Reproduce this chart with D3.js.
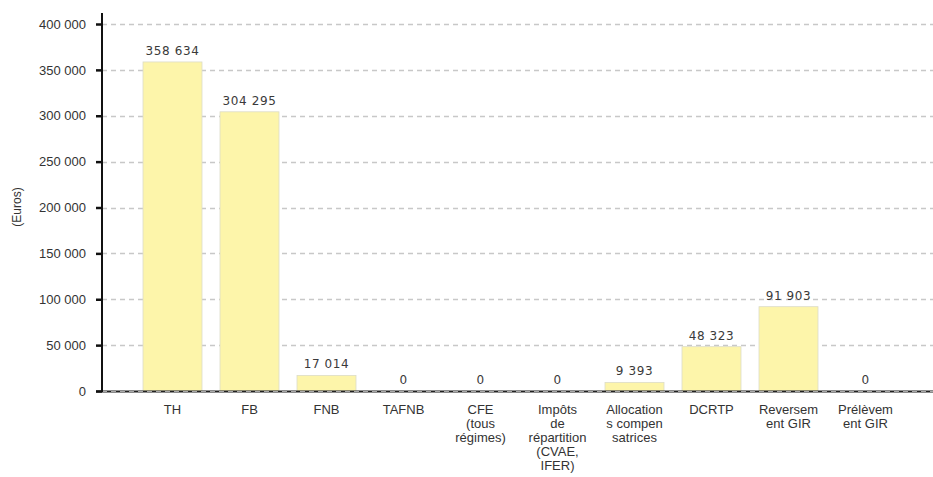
<!DOCTYPE html>
<html><head><meta charset="utf-8">
<script src="https://cdn.jsdelivr.net/npm/d3@7"></script>
<style>body{margin:0;background:#fff}</style>
</head><body>
<svg id="c" width="933" height="477"></svg>
<script>
const categories = ["TH","FB","FNB","TAFNB","CFE (tous régimes)","Impôts de répartition (CVAE, IFER)","Allocations compensatrices","DCRTP","Reversement GIR","Prélèvement GIR"];
const categoryLines = [["TH"],["FB"],["FNB"],["TAFNB"],["CFE","(tous","régimes)"],["Impôts","de","répartition","(CVAE,","IFER)"],["Allocation","s compen","satrices"],["DCRTP"],["Reversem","ent GIR"],["Prélèvem","ent GIR"]];
const values = [358634,304295,17014,0,0,0,9393,48323,91903,0];
const yTicks = [0,50000,100000,150000,200000,250000,300000,350000,400000];
const yTitle = "(Euros)";

const svg = d3.select("#c");
const fmt = v => d3.format(",")(v).replace(/,/g, " ");
const x = d3.scaleBand().domain(categories).range([134, 904]).paddingInner(0.234).paddingOuter(0.117);
const y = d3.scaleLinear().domain([0, 400000]).range([391, 24]);

// gridlines
svg.append("g").selectAll("line").data(yTicks).join("line")
  .attr("x1", 102).attr("x2", 933)
  .attr("y1", d => Math.round(y(d)) + 0.5).attr("y2", d => Math.round(y(d)) + 0.5)
  .attr("stroke", "#c8c8c8").attr("stroke-width", 1.3).attr("stroke-dasharray", "5,4");

// bars
svg.append("g").selectAll("rect").data(values).join("rect")
  .attr("x", (d, i) => x(categories[i])).attr("width", x.bandwidth())
  .attr("y", d => y(d)).attr("height", d => y(0) - y(d))
  .attr("fill", "#fdf5aa").attr("stroke", "#dcdcc8").attr("stroke-width", 0.8)
  .style("display", d => d > 0 ? null : "none");

// value labels
svg.append("g").selectAll("text").data(values).join("text")
  .attr("x", (d, i) => x(categories[i]) + x.bandwidth() / 2)
  .attr("y", d => y(d) - 7)
  .attr("text-anchor", "middle")
  .attr("font-family", "DejaVu Sans").attr("font-size", 12).attr("letter-spacing", 0.6)
  .attr("fill", "#3a3a3a").text(d => fmt(d));

// x axis baseline
svg.append("line").attr("x1", 96).attr("x2", 933).attr("y1", 391.5).attr("y2", 391.5)
  .attr("stroke", "#222").attr("stroke-width", 2);
svg.append("line").attr("x1", 102).attr("x2", 933).attr("y1", 391.5).attr("y2", 391.5)
  .attr("stroke", "#aaa").attr("stroke-width", 1).attr("stroke-dasharray", "5,4");

// y axis
const yAxis = d3.axisLeft(y).tickValues(yTicks).tickSize(6).tickPadding(10).tickFormat(fmt);
const ga = svg.append("g").attr("transform", "translate(102,0)").call(yAxis);
ga.select(".domain").remove();
ga.selectAll(".tick line").attr("stroke", "#111").attr("stroke-width", 2.5);
ga.selectAll(".tick text").attr("font-family", "Liberation Sans, Arial").attr("font-size", 13).attr("fill", "#333");
svg.append("line").attr("x1", 102).attr("x2", 102).attr("y1", 13).attr("y2", 392)
  .attr("stroke", "#111").attr("stroke-width", 2);

// category labels
const cg = svg.append("g").selectAll("text").data(categories).join("text")
  .attr("text-anchor", "middle")
  .attr("font-family", "Liberation Sans, Arial").attr("font-size", 13).attr("fill", "#333");
cg.each(function(c, i) {
  const t = d3.select(this);
  categoryLines[i].forEach((ln, j) => {
    t.append("tspan").attr("x", x(c) + x.bandwidth() / 2).attr("y", 414 + j * 14).text(ln);
  });
});

// y title
svg.append("text").attr("transform", "translate(21,207) rotate(-90)")
  .attr("text-anchor", "middle").attr("font-family", "Liberation Sans, Arial")
  .attr("font-size", 12).attr("fill", "#333").text(yTitle);
</script>
</body></html>
